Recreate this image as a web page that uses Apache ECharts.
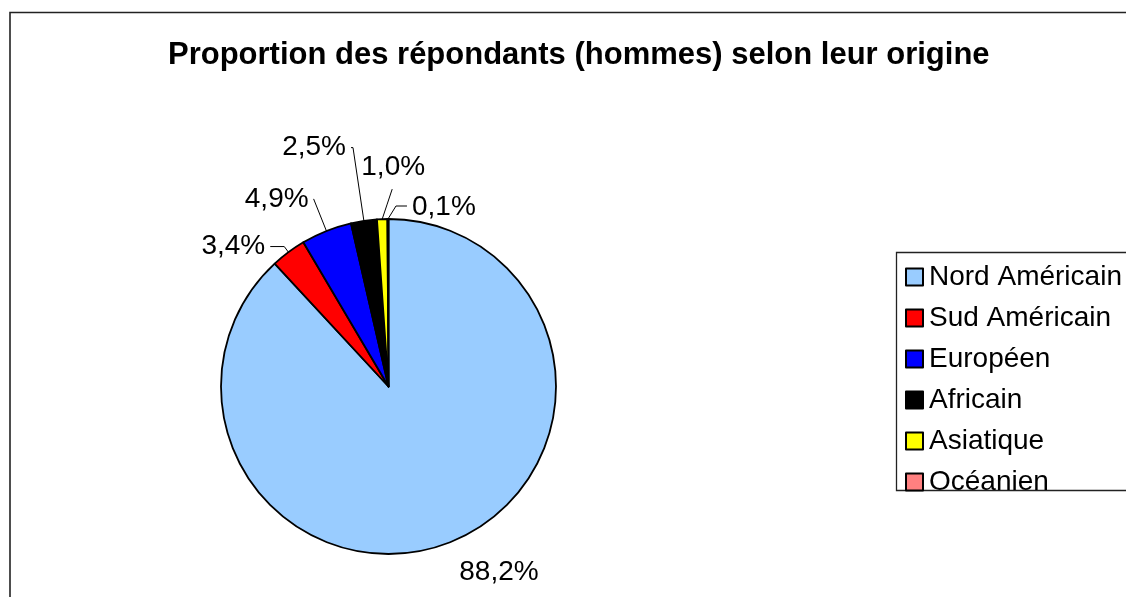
<!DOCTYPE html>
<html>
<head>
<meta charset="utf-8">
<script src="https://cdn.jsdelivr.net/npm/echarts@6/dist/echarts.min.js"></script>
<style>
html,body{margin:0;padding:0;background:#fff;}
#chart{width:1126px;height:597px;}
</style>
</head>
<body>
<div id="chart"></div>
<script>
// ---- data ----
const titleText = 'Proportion des répondants (hommes) selon leur origine';
const categories = ['Nord Américain', 'Sud Américain', 'Européen', 'Africain', 'Asiatique', 'Océanien'];
const values = [88.2, 3.4, 4.9, 2.5, 1.0, 0.1];
const colors = ['#99CCFF', '#FF0000', '#0000FF', '#000000', '#FFFF00', '#FF8080'];

// ---- label leader styling (lengths only) ----
const leaderLen = [32, 7, 34.5, 74, 0, 0];
const leaderLen2 = [0, 14, 0, 2, 0, 0];
const leaderShow = [false, true, true, true, true, true];

const FONT = '"Liberation Sans", Arial, Helvetica, sans-serif';

const chart = echarts.init(document.getElementById('chart'), null, {renderer: 'canvas'});

const seriesData = categories.map((c, i) => ({
  name: c,
  value: values[i],
  itemStyle: {color: colors[i]},
  labelLine: {show: leaderShow[i], length: leaderLen[i], length2: leaderLen2[i]},
  label: {distanceToLabelLine: i === 0 ? -2 : 5}
}));

const option = {
  animation: false,
  backgroundColor: '#ffffff',
  title: {
    text: titleText,
    left: 168,
    top: 40,
    padding: 0,
    textStyle: {fontFamily: FONT, fontSize: 31, fontWeight: 'bold', color: '#000'}
  },
  legend: {
    orient: 'vertical',
    left: 905,
    top: 263,
    padding: 0,
    itemWidth: 17,
    itemHeight: 17,
    itemGap: 13,
    icon: 'rect',
    data: categories,
    itemStyle: {borderColor: '#000', borderWidth: 2},
    textStyle: {fontFamily: FONT, fontSize: 28, lineHeight: 28, color: '#000', padding: [0, 0, 0, 1]}
  },
  graphic: [
    {type: 'rect', shape: {x: 10, y: 12.5, width: 1300, height: 800}, style: {fill: 'none', stroke: '#222', lineWidth: 1.6}, silent: true, z: -1},
    {type: 'rect', shape: {x: 896.5, y: 252.5, width: 400, height: 238}, style: {fill: 'none', stroke: '#222', lineWidth: 1.3}, silent: true, z: -1}
  ],
  series: [{
    type: 'pie',
    center: [388.5, 386.5],
    radius: 167.5,
    startAngle: 90,
    clockwise: true,
    avoidLabelOverlap: false,
    minShowLabelAngle: 0,
    data: seriesData,
    itemStyle: {borderColor: '#000', borderWidth: 1.8},
    emphasis: {disabled: true},
    label: {
      show: true,
      position: 'outside',
      fontFamily: FONT,
      fontSize: 28,
      color: '#000',
      formatter: p => p.value.toFixed(1).replace('.', ',') + '%'
    },
    labelLine: {show: true, lineStyle: {color: '#000', width: 1}},
    labelLayout: function (params) {
      const i = params.dataIndex;
      const pts = params.labelLinePoints;
      if (!pts) return {};
      const p0 = pts[0];
      if (i === 4) {
        return {
          x: p0[0] + 11, y: p0[1] - 52, align: 'center', verticalAlign: 'middle',
          labelLinePoints: [[p0[0], p0[1]], [p0[0] + 5, p0[1] - 15], [p0[0] + 10, p0[1] - 30]]
        };
      }
      if (i === 5) {
        return {
          x: p0[0] + 24, y: p0[1] - 12, align: 'left', verticalAlign: 'middle',
          labelLinePoints: [[p0[0], p0[1]], [p0[0] + 8, p0[1] - 13], [p0[0] + 19, p0[1] - 13]]
        };
      }
      return {};
    }
  }]
};

chart.setOption(option);
</script>
</body>
</html>
